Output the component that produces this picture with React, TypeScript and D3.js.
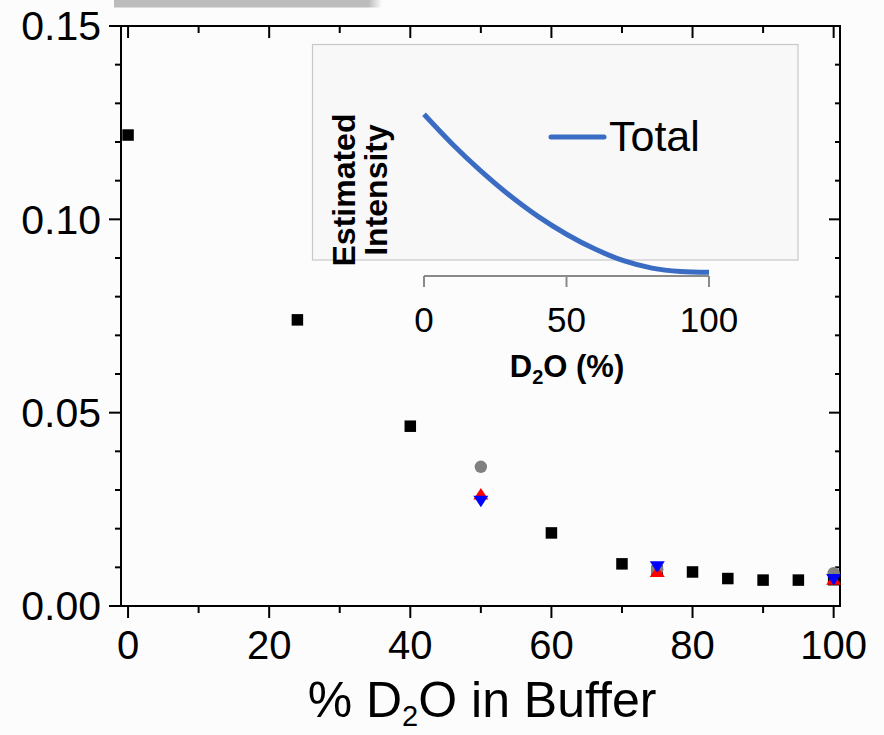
import React from "react";
import * as d3 from "d3";

// Main chart data (fraction vs % D2O)
const blackX = [0, 24, 40, 60, 70, 75, 80, 85, 90, 95, 100];
const blackY = [0.1218, 0.074, 0.0465, 0.0189, 0.0109, 0.009, 0.0088, 0.0071, 0.0067, 0.0067, 0.0068];
const grayX = [50, 75, 100];
const grayY = [0.036, 0.0095, 0.0085];
const redX = [50, 75, 100];
const redY = [0.029, 0.009, 0.007];
const blueX = [50, 75, 100];
const blueY = [0.027, 0.0101, 0.0068];

const xTickLabels = ["0", "20", "40", "60", "80", "100"];
const yTickLabels = ["0.00", "0.05", "0.10", "0.15"];

// Inset data (estimated intensity, Total)
const insetX = [0, 10, 20, 30, 40, 50, 60, 70, 80, 90, 100];
const insetY = [0.697, 0.568, 0.452, 0.348, 0.257, 0.18, 0.116, 0.066, 0.034, 0.019, 0.016];
const insetTickLabels = ["0", "50", "100"];

const FONT = "'Liberation Sans', Arial, Helvetica, sans-serif";

export default function App() {
  const W = 884, H = 735;
  const L = 121, R = 840, T = 26, B = 606;
  const x = d3.scaleLinear().domain([-1, 100.9]).range([L, R]);
  const y = d3.scaleLinear().domain([0, 0.15]).range([B, T]);

  const ix = d3.scaleLinear().domain([0, 100]).range([424, 709]);
  const iy = d3.scaleLinear().domain([0, 1]).range([276, 44]);
  const insetLine = d3
    .line<number>()
    .x((_, i) => ix(insetX[i]))
    .y((v) => iy(v))
    .curve(d3.curveCatmullRom.alpha(0.5));

  const xTicks = d3.range(0, 101, 10);
  const yTicks = d3.range(0, 16, 1).map((v) => v / 100);

  const sq = 11.5;
  const triW = 15, triH = 11.5;
  const up = (cx: number, cy: number) =>
    `M${cx},${cy - triH / 2}L${cx + triW / 2},${cy + triH / 2}L${cx - triW / 2},${cy + triH / 2}Z`;
  const down = (cx: number, cy: number) =>
    `M${cx},${cy + triH / 2}L${cx + triW / 2},${cy - triH / 2}L${cx - triW / 2},${cy - triH / 2}Z`;

  return (
    <svg
      width={W}
      height={H}
      style={{ position: "absolute", left: 0, top: 0, display: "block" }}
      fontFamily={FONT}
    >
      <defs>
        <linearGradient id="barfade" x1="0" x2="1" y1="0" y2="0">
          <stop offset="0" stopColor="#bcbcbc" />
          <stop offset="0.95" stopColor="#bcbcbc" />
          <stop offset="1" stopColor="#bcbcbc" stopOpacity="0" />
        </linearGradient>
      </defs>
      <rect x={0} y={0} width={W} height={H} fill="#fcfcfc" />
      <rect x={114} y={0} width={268} height={7.5} fill="url(#barfade)" />

      {/* Inset */}
      <rect x={312.5} y={44.5} width={485.5} height={215.5} fill="#f8f8f8" stroke="#c8c8c8" strokeWidth={1.2} />
      <path d={insetLine(insetY) || ""} fill="none" stroke="#3b6cc3" strokeWidth={5} strokeLinecap="butt" />
      <line x1={ix(0)} x2={ix(100)} y1={276} y2={276} stroke="#8a8a8a" strokeWidth={2} />
      {[0, 50, 100].map((v, i) => (
        <g key={"it" + v}>
          <line x1={ix(v)} x2={ix(v)} y1={276} y2={287} stroke="#8a8a8a" strokeWidth={2} />
          <text x={ix(v)} y={332} fontSize={35} textAnchor="middle" fill="#000">
            {insetTickLabels[i]}
          </text>
        </g>
      ))}
      <text x={567} y={377} fontSize={31} fontWeight="bold" textAnchor="middle" fill="#000">
        D<tspan fontSize={20} dy={7}>2</tspan>
        <tspan dy={-7}>O (%)</tspan>
      </text>
      <g transform="translate(355,190) rotate(-90)">
        <text x={0} y={0} fontSize={32} fontWeight="bold" textAnchor="middle" fill="#000">Estimated</text>
        <text x={0} y={32} fontSize={32} fontWeight="bold" textAnchor="middle" fill="#000">Intensity</text>
      </g>
      <line x1={551} x2={604} y1={137} y2={137} stroke="#3b6cc3" strokeWidth={5} strokeLinecap="round" />
      <text x={609} y={151} fontSize={43} fill="#000">Total</text>

      {/* Main axes frame */}
      <g stroke="#000" strokeWidth={2}>
        <line x1={L} x2={R} y1={T} y2={T} />
        <line x1={L} x2={R} y1={B} y2={B} />
        <line x1={L} x2={L} y1={T - 1} y2={B + 1} />
        <line x1={R} x2={R} y1={T - 1} y2={B + 1} />
        {xTicks.map((v) => {
          const major = v % 20 === 0;
          return (
            <g key={"xt" + v}>
              <line x1={x(v)} x2={x(v)} y1={B} y2={B + (major ? 12 : 7)} />
              <line x1={x(v)} x2={x(v)} y1={T} y2={T + (major ? 12 : 7)} />
            </g>
          );
        })}
        {yTicks.map((v, i) => {
          const major = i % 5 === 0;
          return (
            <g key={"yt" + i}>
              <line x1={L} x2={L - (major ? 12 : 6)} y1={y(v)} y2={y(v)} />
              <line x1={R} x2={R - (major ? 11 : 5)} y1={y(v)} y2={y(v)} />
            </g>
          );
        })}
      </g>
      {xTicks
        .filter((v) => v % 20 === 0)
        .map((v, i) => (
          <text key={"xl" + v} x={x(v)} y={659} fontSize={40} textAnchor="middle" fill="#000">
            {xTickLabels[i]}
          </text>
        ))}
      {[0, 0.05, 0.1, 0.15].map((v, i) => (
        <text key={"yl" + i} x={101} y={y(v)} dy="0.35em" fontSize={41} textAnchor="end" fill="#000">
          {yTickLabels[i]}
        </text>
      ))}
      <text x={482} y={717} fontSize={50} textAnchor="middle" fill="#000">
        % D<tspan fontSize={29} dy={9}>2</tspan>
        <tspan dy={-9}>O in Buffer</tspan>
      </text>

      {/* Markers */}
      {blackX.map((v, i) => (
        <rect key={"b" + i} x={x(v) - sq / 2} y={y(blackY[i]) - sq / 2} width={sq} height={sq} fill="#000" />
      ))}
      {grayX.map((v, i) => (
        <circle key={"g" + i} cx={x(v)} cy={y(grayY[i])} r={6.2} fill="#808080" />
      ))}
      {redX.map((v, i) => (
        <path key={"r" + i} d={up(x(v), y(redY[i]))} fill="#ff0000" />
      ))}
      {blueX.map((v, i) => (
        <path key={"bl" + i} d={down(x(v), y(blueY[i]))} fill="#0000ff" />
      ))}
    </svg>
  );
}
